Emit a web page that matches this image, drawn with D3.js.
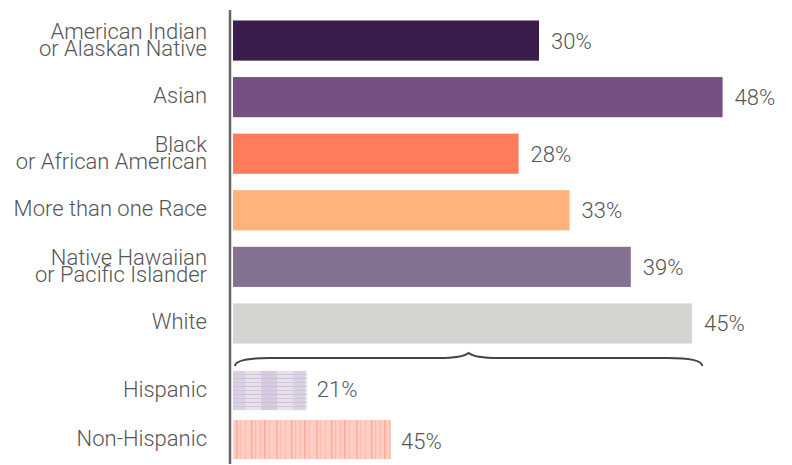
<!DOCTYPE html>
<html>
<head>
<meta charset="utf-8">
<script src="https://cdn.jsdelivr.net/npm/d3@7"></script>
<style>
  html, body { margin: 0; padding: 0; background: #fff; }
  svg { display: block; font-family: Roboto, "Open Sans", sans-serif; font-weight: 300; }
  .cat-label { fill: #555; font-size: 22px; }
  .val-label { fill: #555; font-size: 22px; }
</style>
</head>
<body>
<div id="chart"></div>
<script>
'use strict';

// ── Data ──────────────────────────────────────────────────────────────────────
const raceLabels = [
  ['American Indian', 'or Alaskan Native'],
  ['Asian '],
  ['Black', 'or African American'],
  ['More than one Race'],
  ['Native Hawaiian', 'or Pacific Islander'],
  ['White']
];
const raceValues = [30, 48, 28, 33, 39, 45];
const raceColors = ['#3a1d4c', '#765082', '#ff7b5c', '#ffb27b', '#857293', '#d4d5d0'];

const ethLabels = ['Hispanic', 'Non-Hispanic'];
const ethValues = [21, 45];
const ethPatterns = ['pat-hisp', 'pat-nonhisp'];

// ── Layout ────────────────────────────────────────────────────────────────────
const W = 792, H = 465;
const AXIS_X = 230;
const LABEL_X = 207;

const svg = d3.select('#chart').append('svg')
  .attr('width', W).attr('height', H);

const defs = svg.append('defs');

// hatched fill for Hispanic
const p1 = defs.append('pattern')
  .attr('id', 'pat-hisp').attr('patternUnits', 'userSpaceOnUse')
  .attr('x', 233).attr('y', 0).attr('width', 60).attr('height', 8);
p1.append('rect').attr('width', 60).attr('height', 8).attr('fill', '#e8e1ec');
p1.append('rect').attr('x', 0).attr('width', 12).attr('height', 8).attr('fill', '#dbd1e4');
p1.append('rect').attr('x', 28).attr('width', 16).attr('height', 8).attr('fill', '#d6cbe0');
p1.append('rect').attr('y', 2).attr('width', 60).attr('height', 1).attr('fill', '#cbbfd8');
p1.append('rect').attr('y', 6).attr('width', 60).attr('height', 1).attr('fill', '#d1c6dc');

// striped fill for Non-Hispanic
const p2 = defs.append('pattern')
  .attr('id', 'pat-nonhisp').attr('patternUnits', 'userSpaceOnUse')
  .attr('x', 233).attr('y', 0).attr('width', 40).attr('height', 40);
p2.append('rect').attr('width', 40).attr('height', 40).attr('fill', '#ffcdc2');
[3, 7, 12, 18, 22, 27, 31, 36].forEach((x, i) => {
  p2.append('rect').attr('x', x).attr('width', i % 3 === 0 ? 1.5 : 1).attr('height', 40)
    .attr('fill', i % 3 === 0 ? '#ffab9c' : '#ffbcae');
});

// ── Scales ────────────────────────────────────────────────────────────────────
const x = d3.scaleLinear().domain([0, 50]).range([233, 743]);
const xEth = d3.scaleLinear().domain([0, 45]).range([233, 391]);

const y = d3.scaleBand()
  .domain(d3.range(raceValues.length))
  .range([12, 352])
  .paddingInner(0.29).paddingOuter(0.15);

const yEth = d3.scaleBand()
  .domain(d3.range(ethValues.length))
  .range([366, 464])
  .paddingInner(0.2).paddingOuter(0.1);

// ── Race bars ─────────────────────────────────────────────────────────────────
const rows = svg.append('g').selectAll('g')
  .data(raceValues)
  .enter().append('g');

rows.append('rect')
  .attr('x', x(0))
  .attr('y', (d, i) => y(i))
  .attr('width', d => x(d) - x(0))
  .attr('height', y.bandwidth())
  .attr('fill', (d, i) => raceColors[i]);

rows.append('text')
  .attr('class', 'val-label')
  .attr('x', d => x(d) + 12)
  .attr('y', (d, i) => y(i) + y.bandwidth() / 2 + 8)
  .text(d => d + '%');

rows.each(function (d, i) {
  const lines = raceLabels[i];
  const cy = y(i) + y.bandwidth() / 2;
  const t = d3.select(this).append('text')
    .attr('class', 'cat-label')
    .attr('text-anchor', 'end');
  lines.forEach((ln, j) => {
    const base = lines.length === 1 ? cy + 6 : cy - 1.5 + j * 17;
    t.append('tspan').attr('x', LABEL_X).attr('y', base).text(ln);
  });
});

// ── Brace ─────────────────────────────────────────────────────────────────────
const bx0 = x(0) + 2, bx1 = x(46), bm = (bx0 + bx1) / 2;
const by = 358;
svg.append('path')
  .attr('d', `M${bx0},${by + 8} Q${bx0},${by} ${bx0 + 35},${by}
              L${bm - 30},${by} Q${bm - 6},${by} ${bm},${by - 5}
              Q${bm + 6},${by} ${bm + 30},${by}
              L${bx1 - 35},${by} Q${bx1},${by} ${bx1},${by + 8}`)
  .attr('fill', 'none')
  .attr('stroke', '#444')
  .attr('stroke-width', 2);

// ── Ethnicity bars ────────────────────────────────────────────────────────────
const eRows = svg.append('g').selectAll('g')
  .data(ethValues)
  .enter().append('g');

eRows.append('rect')
  .attr('x', xEth(0))
  .attr('y', (d, i) => yEth(i))
  .attr('width', d => xEth(d) - xEth(0))
  .attr('height', yEth.bandwidth())
  .attr('fill', (d, i) => `url(#${ethPatterns[i]})`);

eRows.append('text')
  .attr('class', 'val-label')
  .attr('x', d => xEth(d) + 10)
  .attr('y', (d, i) => yEth(i) + yEth.bandwidth() / 2 + 6 + i * 3)
  .text(d => d + '%');

eRows.append('text')
  .attr('class', 'cat-label')
  .attr('text-anchor', 'end')
  .attr('x', LABEL_X)
  .attr('y', (d, i) => yEth(i) + yEth.bandwidth() / 2 + 6)
  .text((d, i) => ethLabels[i]);

// ── Axis line ─────────────────────────────────────────────────────────────────
svg.append('line')
  .attr('x1', AXIS_X).attr('x2', AXIS_X)
  .attr('y1', 10).attr('y2', 464)
  .attr('stroke', '#666')
  .attr('stroke-width', 2.5);
</script>
</body>
</html>
